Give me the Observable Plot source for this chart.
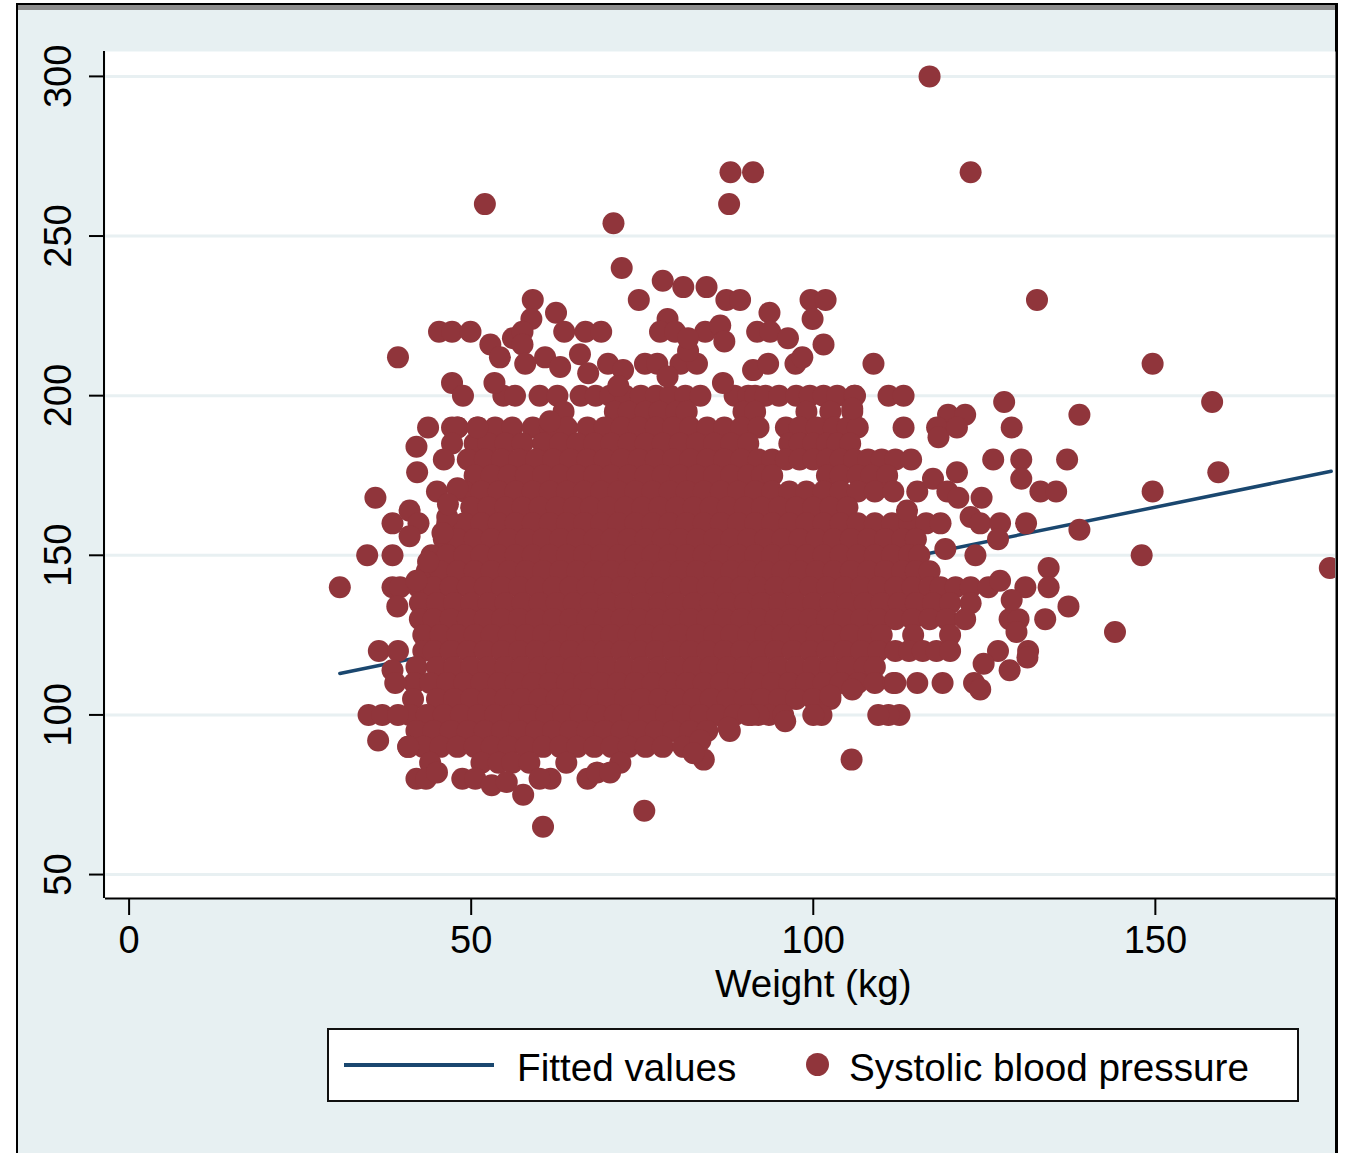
<!DOCTYPE html>
<html><head><meta charset="utf-8">
<script src="https://cdn.jsdelivr.net/npm/d3@7"></script>
<script src="https://cdn.jsdelivr.net/npm/@observablehq/plot@0.6"></script>
<style>
html,body{margin:0;padding:0;background:#fff;overflow:hidden}
#page{position:relative;width:1345px;height:1153px;overflow:hidden;font-family:"Liberation Sans",Arial,sans-serif}
#bg{position:absolute;left:16px;top:3px;width:1317px;height:1160px;background:#e7f0f2;border-left:2px solid #000;border-right:3px solid #000;border-top:2px solid #000;box-shadow:inset 0 5px 0 #8e8e8e}
#chart{position:absolute;left:0;top:0}
#legend{position:absolute;left:327px;top:1028px;width:968px;height:70px;background:#fff;border:2px solid #111}
#legend .ln{position:absolute;left:15px;top:33px;width:150px;height:4px;background:#1a476f}
#legend .dt{position:absolute;left:477px;top:23px;width:23px;height:23px;border-radius:50%;background:#90353b}
#legend span{position:absolute;top:16px;font-size:38.7px;line-height:44px;color:#000;white-space:nowrap}
</style></head><body>
<div id="page"><div id="bg"></div><div id="chart"></div>
<div id="legend"><div class="ln"></div><span id="lt1" style="left:188px">Fitted values</span><div class="dt"></div><span id="lt2" style="left:520px">Systolic blood pressure</span></div>
</div>
<script>
const xTicks=[0,50,100,150];
const yTicks=[50,100,150,200,250,300];
const fitWeight=[30.8,175.7];
const fitSbp=[113,176.3];
const rowSbp=[200,195,190,185,180,175,170,165,160,155,150,145,140,135,130,125,120,115,110,105,100,95,90,85];
const rowWeights=[
[54.7,56.4,60,62.6,66,68.2,70.3,72.5,74.8,77,79.1,81.3,83.5,88.5,90.5,91.5,93,95,97.5,99.5,101.5,103.5,106],
[63.5,71,73,75.5,77.5,80,81.5,89.8,91.5,99,102.5,105.7],
[48,51,53.5,56,59,61.5,64,67,69.5,72,74.5,77,79.5,82,84.5,87,89.5,92,96,98,100.5,103,105,106.5],
[50.5,52.5,55,57.5,60.5,63,65.5,68,70.5,73,75.5,78,80.5,83,85.5,88,90.5,96.5,98,100,102,103.5,105.4],
[49.5,52,54.5,57,59.5,62,64.5,67,69.5,72,74.5,77,79.5,82,84.5,87,89.5,92,94,96,98,100,102,104,106,108,110,112],
[50.5,53,55.5,58,60.5,63,65.5,68,70.5,73,75.5,78,80.5,83,85.5,88,90.5,92.5,94,102,104,106.5,108.5,110.8],
[49,51.5,54,56.5,59,61.5,64,66.5,69,71.5,74,76.5,79,81.5,84,86.5,89,91.5,94,96.5,99,101.5,104,106.5,109,111.7],
[50,52.5,55,57.5,60,62.5,65,67.5,70,72.5,75,77.5,80,82.5,85,87.5,90,92.5,95,97.5,100,102.5,105],
[46.5,49,51.5,54,56.5,59,61.5,64,66.5,69,71.5,74,76.5,79,81.5,84,86.5,89,91.5,94,96.5,99,101.5,104,106.5,109,111.5,114,116.5,118.6],
[46,48,50.5,53,55.5,58,60.5,63,65.5,68,70.5,73,75.5,78,80.5,83,85.5,88,90.5,93,95.5,98,100.5,103,105.5,108,110.5,113,115],
[44.2,46.5,49,51.5,54,56.5,59,61.5,64,66.5,69,71.5,74,76.5,79,81.5,84,86.5,89,91.5,94,96.5,99,101.5,104,106.5,109,111.5,114,115.5],
[43.5,45.5,48,50.5,53,55.5,58,60.5,63,65.5,68,70.5,73,75.5,78,80.5,83,85.5,88,90.5,93,95.5,98,100.5,103,105.5,108,110.5,113,115,117],
[42.3,44.5,47,49.5,52,54.5,57,59.5,62,64.5,67,69.5,72,74.5,77,79.5,82,84.5,87,89.5,92,94.5,97,99.5,102,104.5,107,109.5,112,114.5,117,118.6,120.8,123,125.6],
[42.5,45,47.5,50,52.5,55,57.5,60,62.5,65,67.5,70,72.5,75,77.5,80,82.5,85,87.5,90,92.5,95,97.5,100,102.5,105,107.5,110,112.5,115,117.5,120,123],
[42.5,44.5,47,49.5,52,54.5,57,59.5,62,64.5,67,69.5,72,74.5,77,79.5,82,84.5,87,89.5,92,94.5,97,99.5,102,104.5,107,109.5,112,114.5,117,119.5,122.2],
[43,45.5,48,50.5,53,55.5,58,60.5,63,65.5,68,70.5,73,75.5,78,80.5,83,85.5,88,90.5,93,95.5,98,100.5,103,105.5,108,110,114.6,120],
[43,44.5,47,49.5,52,54.5,57,59.5,62,64.5,67,69.5,72,74.5,77,79.5,82,84.5,87,89.5,92,94.5,97,99.5,102,104.5,107,109.5,112,114,116,118,120],
[42,45,47.5,50,52.5,55,57.5,60,62.5,65,67.5,70,72.5,75,77.5,80,82.5,85,87.5,90,92.5,95,97.5,100,102.5,105,107.5,109],
[41.7,44,46.5,49,51.5,54,56.5,59,61.5,64,66.5,69,71.5,74,76.5,79,81.5,84,86.5,89,91.5,94,96.5,99,101.5,104,106.5,109,111.7],
[41.5,45,47.5,50,52.5,55,57.5,60,62.5,65,67.5,70,72.5,75,77.5,80,82.5,85,87.5,90,92.5,95,97.5,100,102.5],
[41,43.5,46,48.5,51,53.5,56,58.5,61,63.5,66,68.5,71,73.5,76,78.5,81,83.5,86,88.5,91,93.5,95.6],
[42,44.5,47,49.5,52,54.5,57,59.5,62,64.5,67,69.5,72,74.5,77,79.5,82,84.5,87.8],
[40.8,43,45.5,48,50.5,53,55.5,58,60.5,63,65.5,68,70.5,73,75.5,78,81],
[44,51.5,54,56,58.5,63.9,71.8]
];
const looseWeight=[117,123,87.9,91.2,87.7,52,70.8,72,78,74.5,81,84.4,87.3,89.3,59,62.4,58.8,132.7,99.6,101.8,99.9,93.6,91.8,93.7,96.3,101.5,78.7,77.6,79.8,84.2,86.4,87,45.3,47.2,49.9,52.8,54.2,56.1,57.5,57.5,39.3,63.6,66.7,69,65.9,60.8,63,57.9,108.8,149.6,158.3,159.2,149.6,138.9,127.9,129,130.4,137.1,130.4,133.2,135.5,131.1,138.9,148,134.4,175.5,131,134.4,137.3,133.9,144.1,131.4,131.3,128.7,128.7,130,129.7,129,127,124.9,123.5,124.4,118.9,115.2,112,112.6,111,109.5,105.6,101.2,95.9,75.3,60.5,30.8,34.8,38.5,36,38.5,41,42.3,41,36.5,36.4,35,37,39.3,38.5,39.6,39.2,39.3,38.5,38.9,42,43.7,42.1,47.2,48.8,53.4,42,43.4,48.7,50.6,45,53,55.2,57.6,61.6,60,67,68.4,70.3,84,83.5,82.5,111,113.2,113.2,114.3,106.1,105.7,86.8,91.2,93.4,97.4,98.4,67.1,70,72.2,71.5,75.4,77.2,80.6,83,78.7,81.7,81.7,61.5,119.7,122.2,118.1,118.3,121,115.2,117.5,119.6,121.2,123,124.4,127.3,127,123.7,119.3,113.7,127.3,121,124.6,126.3,47.2,48,50.9,47.2,46,45,48,46.5,46.6,45.8,43.7,42,40.8,105.7,102.5,92,100,90.5,87.6];
const looseSbp=[300,270,270,270,260,260,254,240,236,230,234,234,230,230,230,226,224,230,230,230,224,226,220,220,218,216,224,220,220,220,222,217,220,220,220,216,212,218,220,216,212,220,220,220,213,212,209,210,210,210,198,176,170,194,198,190,180,180,174,170,170,160,158,150,146,146,140,140,134,130,126,120,118,114,130,130,126,136,120,116,110,108,110,110,110,100,100,100,86,100,98,70,65,140,150,150,168,160,164,160,156,120,92,100,100,100,140,140,134,120,114,110,184,190,176,204,200,204,80,80,80,80,82,78,79,75,80,80,80,82,82,86,92,88,200,200,190,180,200,196,204,208,210,210,212,207,210,208,203,210,210,210,210,206,214,218,192,194,194,190,187,190,170,174,170,168,162,160,160,155,150,152,164,142,176,168,180,190,190,190,185,180,170,171,162,166,157,148,142,90,108,106,100,100,100,96];

const rows=rowSbp.flatMap((s,i)=>rowWeights[i].map(w=>({w,s})));
const loose=looseWeight.map((w,i)=>({w,s:looseSbp[i]}));
const points=rows.concat(loose);
const fit=fitWeight.map((w,i)=>({w,s:fitSbp[i]}));
const ink="#000";

const plot=Plot.plot({
  width:1345,height:1153,
  marginLeft:105,marginRight:10,marginTop:51,marginBottom:255,
  style:{background:"transparent",fontFamily:'"Liberation Sans",Arial,sans-serif',fontSize:"38px",color:ink,overflow:"visible"},
  x:{domain:[-3.45,176.33],range:[105,1335]},
  y:{domain:[42.5,307.8],range:[898,51]},
  marks:[
    Plot.frame({fill:"#fff",stroke:null}),
    Plot.gridY(yTicks,{stroke:"#e8f0f2",strokeOpacity:1,strokeWidth:3}),
    Plot.line(fit,{x:"w",y:"s",stroke:"#1a476f",strokeWidth:3.5}),
    Plot.dot(points,{x:"w",y:"s",r:11,fill:"#90353b",stroke:null,clip:"frame"}),
    Plot.ruleY([42.5],{stroke:ink,strokeWidth:2}),
    Plot.ruleX([-3.67],{stroke:ink,strokeWidth:2}),
    Plot.axisY({ticks:yTicks,tickSize:16,tickPadding:19,tickRotate:-90,label:null,fontSize:38,stroke:ink,strokeWidth:2,fill:ink,textStroke:null}),
    Plot.axisX({ticks:xTicks,tickSize:17,tickPadding:11,label:null,fontSize:38,stroke:ink,strokeWidth:2,fill:ink}),
    Plot.text(["Weight (kg)"],{x:()=>100,frameAnchor:"bottom",dy:98,fontSize:38.6,fill:ink})
  ]
});
plot.style.display="block";
document.getElementById("chart").appendChild(plot);
</script>
</body></html>
